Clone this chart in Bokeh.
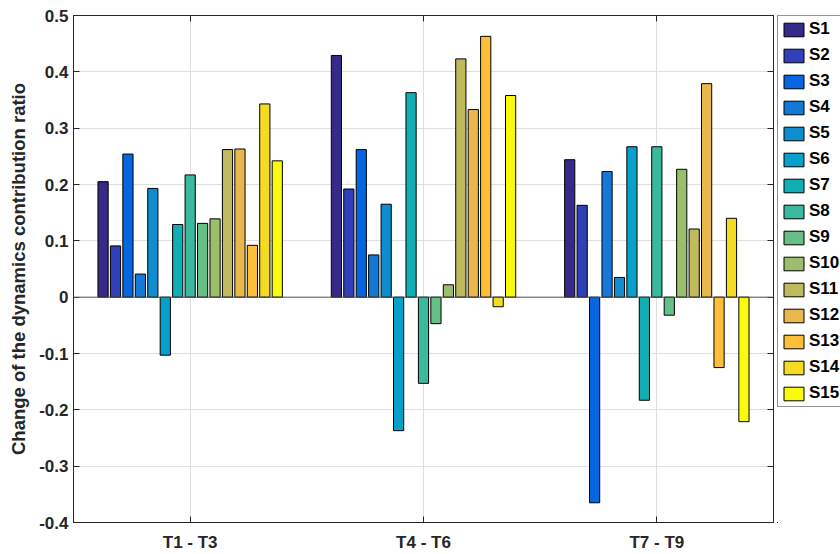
from bokeh.plotting import figure
from bokeh.layouts import row
from bokeh.models import (FixedTicker, CustomJSTickFormatter, Legend, LegendItem, Span,
                          LinearAxis, Range1d, ColumnDataSource)
from bokeh.embed import file_html
from bokeh.resources import INLINE

groups = ["T1 - T3", "T4 - T6", "T7 - T9"]
series = ["S1", "S2", "S3", "S4", "S5", "S6", "S7", "S8", "S9", "S10",
          "S11", "S12", "S13", "S14", "S15"]

t1_t3 = [0.205, 0.091, 0.254, 0.041, 0.193, -0.103, 0.129, 0.217, 0.131, 0.139,
         0.262, 0.263, 0.092, 0.343, 0.242]
t4_t6 = [0.429, 0.192, 0.262, 0.075, 0.165, -0.237, 0.363, -0.153, -0.047, 0.022,
         0.423, 0.333, 0.463, -0.017, 0.358]
t7_t9 = [0.244, 0.163, -0.365, 0.223, 0.035, 0.267, -0.183, 0.267, -0.032, 0.227,
         0.121, 0.379, -0.125, 0.140, -0.221]

colors = ["#352a87", "#3140b8", "#0566e0", "#1478d8", "#0f8ecf", "#06a0ca",
          "#12aeb6", "#3bb99d", "#66bf87", "#9bbe6c", "#c0ba5f", "#e9b84d",
          "#fdbf3a", "#f4dc22", "#f9fb0e"]

y_ticks = [-0.4, -0.3, -0.2, -0.1, 0, 0.1, 0.2, 0.3, 0.4, 0.5]

FONT = "Liberation Sans"
AX = "#262626"

p = figure(width=777, height=554, output_backend="svg", toolbar_location=None,
           x_range=Range1d(0.5, 3.5), y_range=Range1d(-0.4, 0.5),
           min_border_left=73, min_border_right=4, min_border_top=15, min_border_bottom=27)

n = len(series)
group_w = 0.8
slot = group_w / n
xs = [1, 2, 3]
for i, name in enumerate(series):
    off = (i - (n - 1) / 2) * slot
    src = ColumnDataSource(dict(x=[x + off for x in xs],
                                top=[t1_t3[i], t4_t6[i], t7_t9[i]]))
    p.vbar(x="x", top="top", bottom=0, width=slot * 0.82, source=src,
           fill_color=colors[i], line_color="black", line_width=1)

p.add_layout(Span(location=0, dimension="width", line_color="#555555", line_width=1))

# axes
p.xaxis.ticker = FixedTicker(ticks=xs)
p.xaxis.major_label_overrides = {1: groups[0], 2: groups[1], 3: groups[2]}
p.yaxis.ticker = FixedTicker(ticks=y_ticks)
p.yaxis.formatter = CustomJSTickFormatter(code="""
    const v = Math.round(tick * 10) / 10;
    return v === 0 ? "0" : v.toFixed(1);
""")
p.yaxis.axis_label = "Change of the dynamics contribution ratio"
for ax in (p.xaxis[0], p.yaxis[0]):
    ax.axis_line_color = AX
    ax.major_tick_line_color = AX
    ax.major_tick_in = 6
    ax.major_tick_out = 0
    ax.minor_tick_line_color = None
    ax.major_label_text_font = FONT
    ax.major_label_text_font_style = "bold"
    ax.major_label_text_font_size = "17px"
    ax.major_label_text_color = "#262626"
p.xaxis.major_label_standoff = 10
p.yaxis.major_label_standoff = 5
p.yaxis.axis_label_text_font = FONT
p.yaxis.axis_label_text_font_style = "bold"
p.yaxis.axis_label_text_font_size = "18.5px"
p.yaxis.axis_label_text_color = "#262626"
p.yaxis.axis_label_standoff = 7

# mirrored ticks (box)
right_ax = LinearAxis(ticker=FixedTicker(ticks=y_ticks), major_label_text_alpha=0,
                      major_label_text_font_size="1px", major_label_standoff=0,
                      major_tick_in=6, major_tick_out=0, axis_line_color=AX,
                      major_tick_line_color=AX, minor_tick_line_color=None)
top_ax = LinearAxis(ticker=FixedTicker(ticks=xs), major_label_text_alpha=0,
                    major_label_text_font_size="1px", major_label_standoff=0,
                    major_tick_in=6, major_tick_out=0, axis_line_color=AX,
                    major_tick_line_color=AX, minor_tick_line_color=None)
p.add_layout(right_ax, "right")
p.add_layout(top_ax, "above")

p.xgrid.ticker = FixedTicker(ticks=xs)
p.ygrid.ticker = FixedTicker(ticks=y_ticks)
p.grid.grid_line_color = "#dfdfdf"
p.grid.grid_line_width = 1
p.outline_line_color = AX
p.background_fill_color = "white"
p.border_fill_color = "white"

# legend panel (separate small figure to the right of the axes box)
lg = figure(width=63, height=554, output_backend="svg", toolbar_location=None,
            x_range=Range1d(0, 1), y_range=Range1d(0, 1),
            x_axis_type=None, y_axis_type=None,
            min_border_left=0, min_border_right=0, min_border_top=14, min_border_bottom=0)
lg.grid.visible = False
lg.outline_line_color = None
lg.border_fill_color = "white"
lg_items = []
for i, name in enumerate(series):
    # one placeholder bar outside the visible range, only to carry the legend swatch
    r = lg.vbar(x=[-10], top=[-10], bottom=[-11], width=0.1, fill_color=colors[i],
                line_color="black", line_width=1)
    lg_items.append(LegendItem(label=name, renderers=[r]))

legend = Legend(items=lg_items, location="top_left", orientation="vertical",
                label_text_font=FONT, label_text_font_style="bold",
                label_text_font_size="17px", label_text_color="black",
                label_text_line_height=1.0,
                glyph_width=25, glyph_height=17, label_height=17,
                spacing=6, padding=3, margin=0, label_standoff=3,
                border_line_color="#262626", border_line_width=1,
                background_fill_color="white", background_fill_alpha=1)
lg.add_layout(legend, "center")

layout = row(p, lg, spacing=0)
open("out.html", "w").write(file_html(layout, INLINE))
